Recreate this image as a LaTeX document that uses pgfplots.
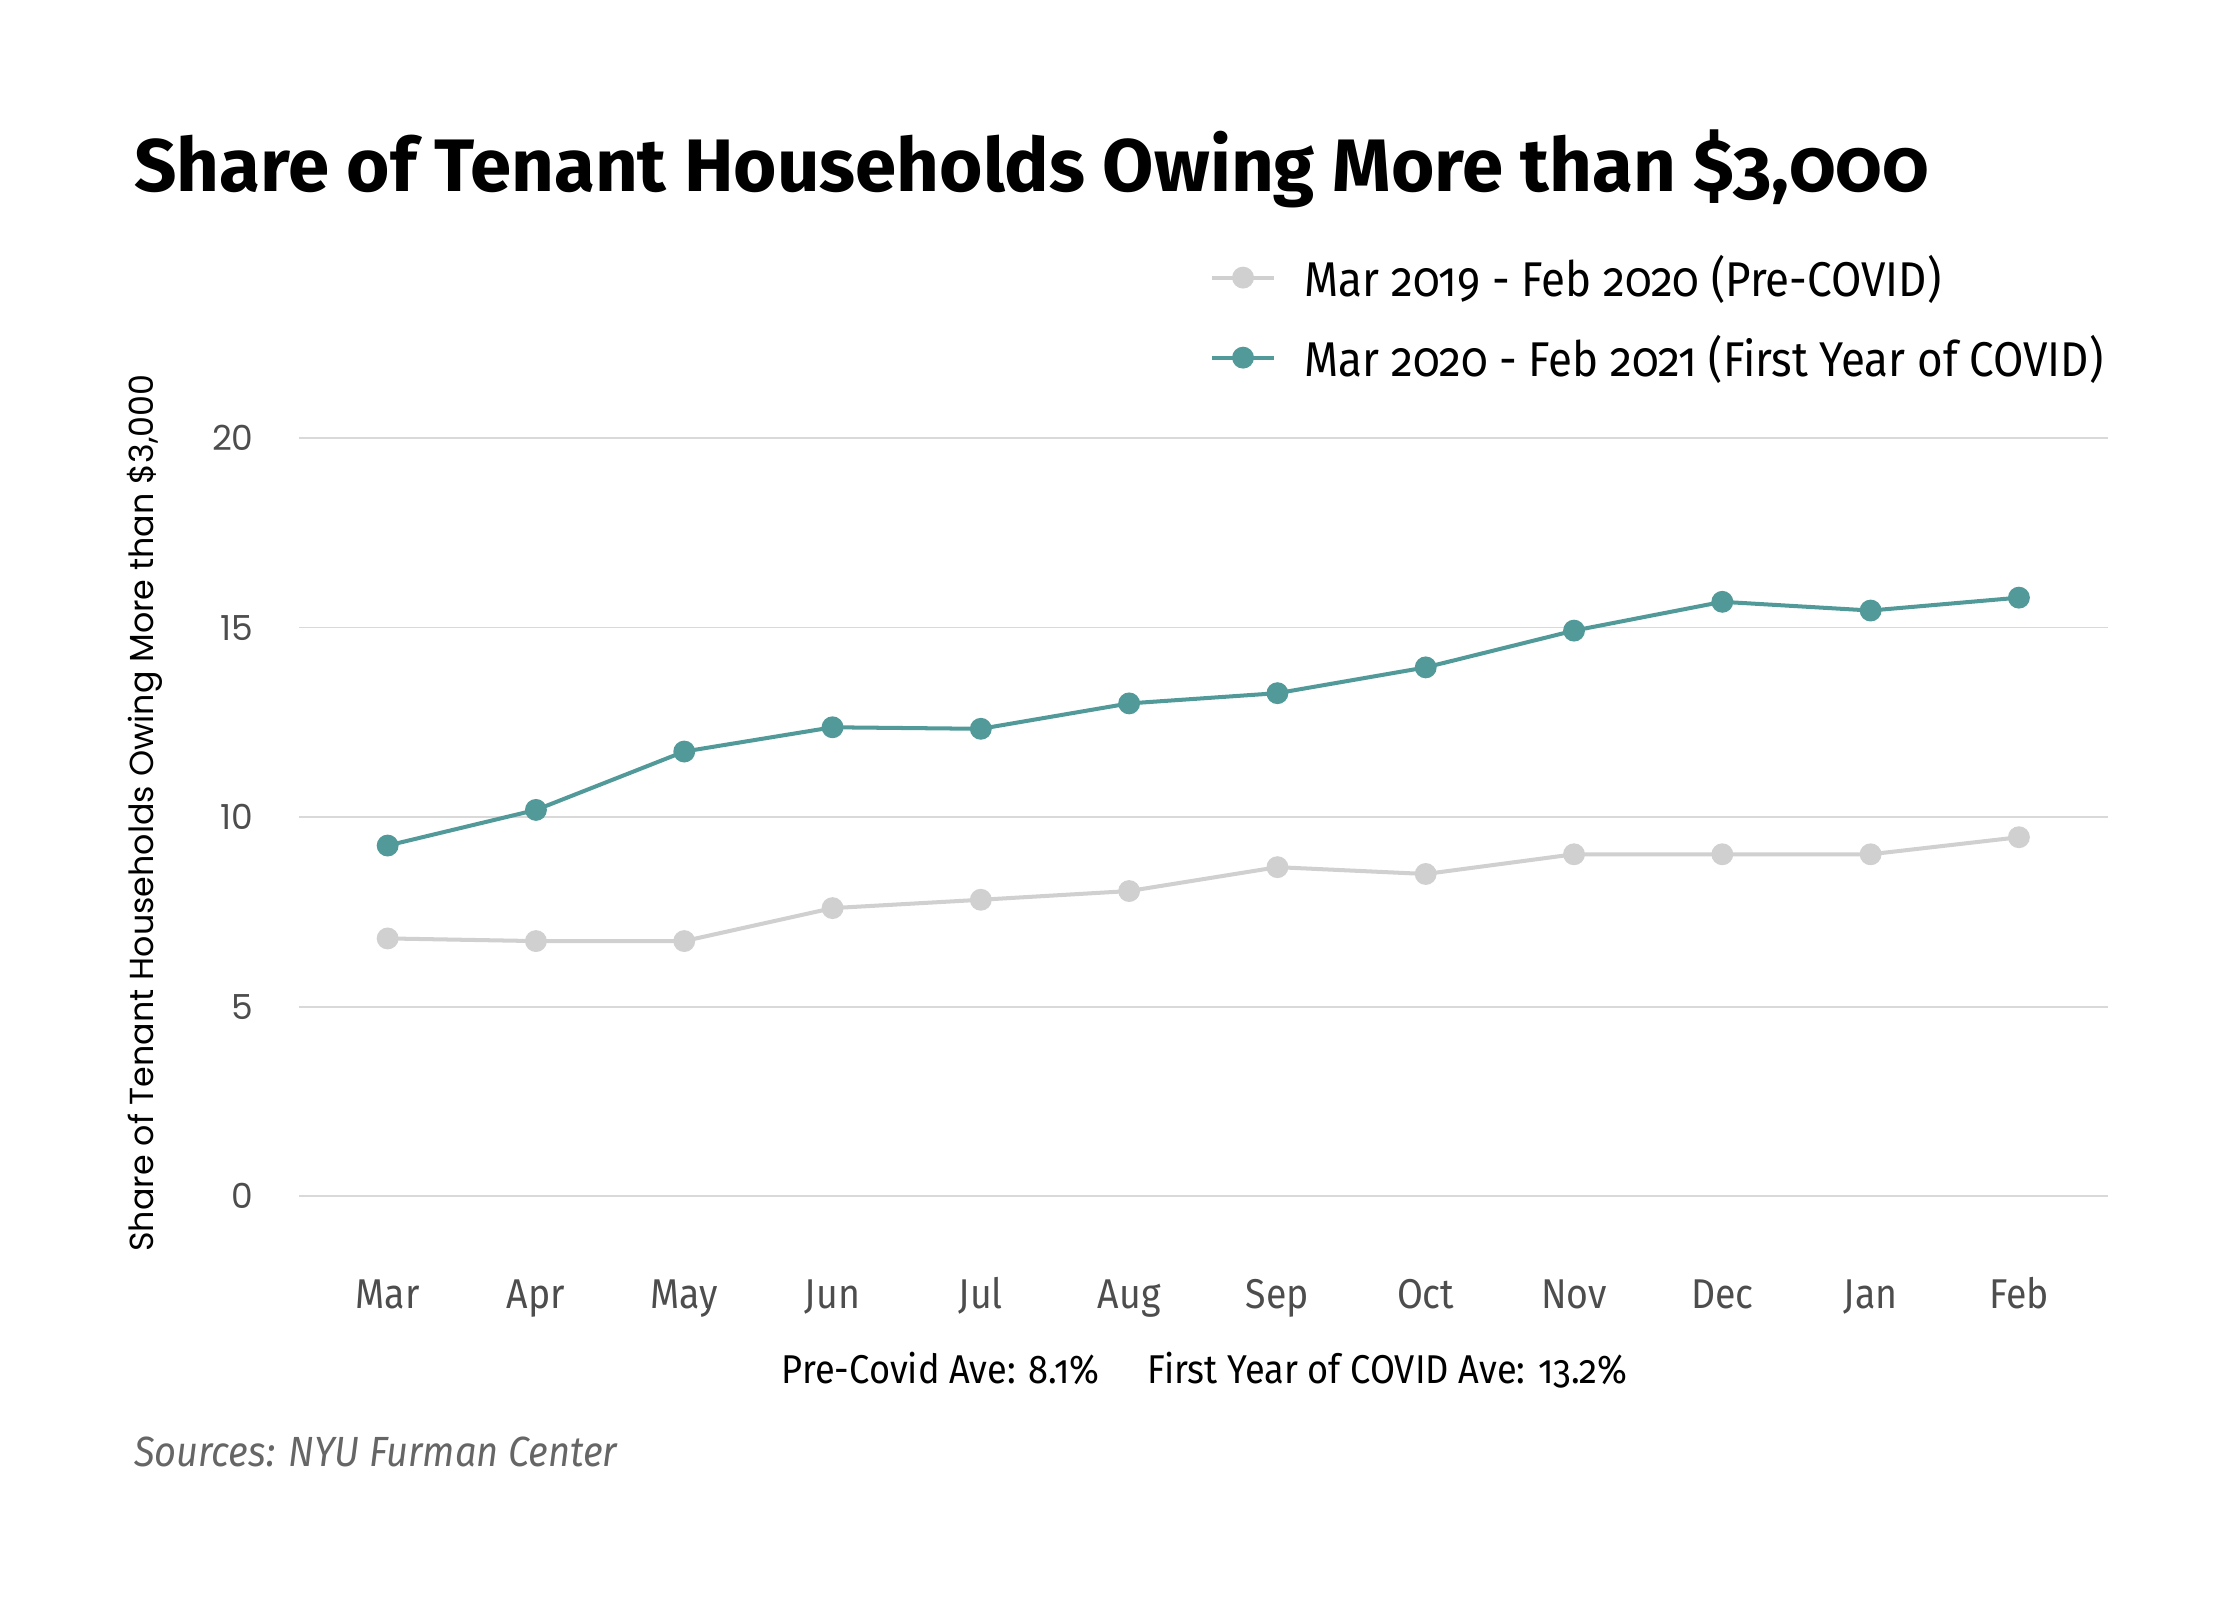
\documentclass[border=0pt]{standalone}
\usepackage{fontspec}
\usepackage{pgfplots}
\pgfplotsset{compat=1.18}
\setmainfont{Fira Sans}[Numbers=OldStyle, FakeStretch=0.9]
\newfontfamily\titlefont{Fira Sans}[Numbers=OldStyle]
\newfontfamily\geo{Poppins}
\definecolor{teal1}{HTML}{529A9A}
\definecolor{gray1}{HTML}{D0D0D0}
\definecolor{gridc}{HTML}{D9D9D9}
\definecolor{tickc}{HTML}{4D4D4D}
\definecolor{srcc}{HTML}{666666}
\pgfplotstableread{
x pre covid
0 6.80 9.25
1 6.73 10.19
2 6.73 11.73
3 7.60 12.37
4 7.82 12.33
5 8.05 13.00
6 8.68 13.27
7 8.50 13.95
8 9.02 14.92
9 9.02 15.68
10 9.02 15.45
11 9.47 15.79
}\datatable
\begin{document}
\begin{tikzpicture}
\path[use as bounding box] (0,0) rectangle (780pt,557.14pt);
\node[anchor=base west, inner sep=0pt, font=\titlefont\fontsize{25.9}{30}\selectfont\bfseries] at (46.5pt,490.6pt) {Share of Tenant Households Owing More than \$3,000};
\begin{axis}[
  at={(104pt,140.6pt)}, anchor=south west,
  scale only axis, width=630pt, height=264pt,
  xmin=-0.6, xmax=11.6, ymin=0, ymax=20,
  clip=false,
  axis line style={draw=none},
  major tick style={draw=none},
  ymajorgrids, grid style={color=gridc, line width=0.6pt},
  xtick={0,...,11},
  xticklabels={Mar,Apr,May,Jun,Jul,Aug,Sep,Oct,Nov,Dec,Jan,Feb},
  ytick={0,5,10,15,20},
  xticklabel style={anchor=base, inner sep=0pt, yshift=-39pt, font=\fontsize{14.5}{16}\selectfont, text=tickc},
  yticklabel style={anchor=east, inner sep=0pt, xshift=-15.5pt, font=\geo\fontsize{12}{14}\selectfont, text=tickc},
  /pgf/number format/assume math mode=true,
  legend style={at={(0.5035,1.25)}, anchor=north west, draw=none, fill=none,
    font=\fontsize{17}{20}\selectfont, row sep=8pt, inner sep=0pt},
  legend cell align=left,
  /tikz/every even column/.append style={column sep=0pt},
  legend image code/.code={\draw[mark repeat=2,mark phase=2,#1] plot coordinates {(0pt,0pt)(10.75pt,0pt)(21.5pt,0pt)};},
]
\addplot[color=gray1, line width=1.4pt, mark=*, mark size=3.1pt, mark options={fill=gray1, draw=gray1}] table[x=x, y=pre] {\datatable};
\addlegendentry{\hspace{8pt}Mar 2019 - Feb 2020 (Pre-COVID)}
\addplot[color=teal1, line width=1.4pt, mark=*, mark size=3.1pt, mark options={fill=teal1, draw=teal1}] table[x=x, y=covid] {\datatable};
\addlegendentry{\hspace{8pt}Mar 2020 - Feb 2021 (First Year of COVID)}
\end{axis}
\node[rotate=90, anchor=center, inner sep=0pt, font=\geo\fontsize{11.6}{13}\selectfont] at (50.5pt,274pt) {Share of Tenant Households Owing More than \$3,000};
\node[anchor=base, inner sep=0pt, font=\fontsize{14}{16}\selectfont] at (419.5pt,75.5pt) {Pre-Covid Ave: 8.1\%\hspace{1.2em}First Year of COVID Ave: 13.2\%};
\node[anchor=base west, inner sep=0pt, font=\fontsize{14.7}{17}\selectfont\itshape, text=srcc] at (46.5pt,46.5pt) {Sources: NYU Furman Center};
\end{tikzpicture}
\end{document}
